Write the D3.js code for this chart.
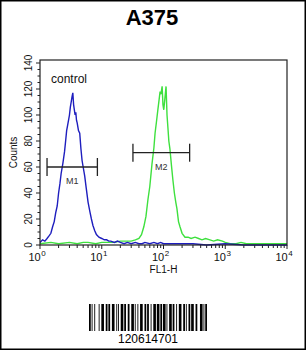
<!DOCTYPE html>
<html>
<head>
<meta charset="utf-8">
<script src="https://cdn.jsdelivr.net/npm/d3@7"></script>
<style>
  html, body { margin: 0; padding: 0; background: #fff; }
  svg { display: block; font-family: Arial, "Liberation Sans", sans-serif; }
</style>
</head>
<body>
<div id="chart"></div>
<script>
// Histogram data (FL1-H value, counts)
const blueFL = [1.0,1.1,1.2,1.3,1.4,1.5,1.6,1.7,1.8,1.9,2.0,2.1,2.2,2.35,2.5,2.6,2.7,2.8,2.9,3.0,3.1,3.2,3.3,3.4,3.5,3.6,3.7,3.8,3.9,4.0,4.2,4.4,4.6,4.8,5.0,5.3,5.6,6.0,6.4,6.8,7.2,7.7,8.2,9.0,10,11,12,13,14,16,18,20,23,26,30,35,40,45,50,60,70,80,90,100,120,150,200,300,500,1000,2000,5000,10000];
const blueCounts = [2,4,3,5,7,9,14,18,25,30,40,47,55,63,72,80,88,92,96,100,106,110,114,117,108,104,100,102,96,94,88,86,74,65,60,53,44,33,26,20,15,11,8,6,5,4,4,3,3,2,3,2,1,2,1,2,1,1,2,1,2,1,2,1,1,1,1,1,0,1,0,0,0];

const greenFL = [1.0,1.5,2,3,4,5,6,8,10,13,16,20,25,30,35,40,44,48,52,56,60,65,70,73,77,81,85,88,91,95,98,101,105,110,114,118,122,127,134,142,150,158,165,175,185,200,223,250,280,324,370,420,480,566,650,750,900,1000,1200,1500,1800,2200,3000,4000,6000,10000];
const greenCounts = [1,2,1,2,1,2,2,1,2,2,2,3,3,3,4,5,8,14,22,35,45,62,75,86,95,104,112,118,116,122,108,104,112,122,100,90,80,74,62,50,40,33,28,18,14,9,6,6,5,6,5,4,5,4,3,4,3,2,1,1,2,1,1,1,1,1];

// Gates: label, from, to, counts level
const gateLabels = ["M1", "M2"];
const gateFrom = [1.3, 32];
const gateTo = [8.5, 265];
const gateLevel = [60, 71];

const yTicks = [0, 20, 40, 60, 80, 100, 120, 140];
const xDecades = [0, 1, 2, 3, 4];

// Code 128B module widths for "120614701" (start, data, check, stop)
const barcodePatterns = ["211214","123221","223211","123122","223112","123221","221231","312131","123122","123221","122132","2331112"];
const barcodeText = "120614701";

const W = 306, H = 350;
const margin = { top: 60, right: 19, bottom: 105, left: 40 };
const pw = W - margin.left - margin.right;
const ph = H - margin.top - margin.bottom;

const svg = d3.select("#chart").append("svg").attr("width", W).attr("height", H);

// outer border
svg.append("rect")
  .attr("x", 0.75).attr("y", 0.75)
  .attr("width", W - 1.5).attr("height", H - 1.5)
  .attr("fill", "none").attr("stroke", "#000").attr("stroke-width", 1.5);

// title
svg.append("text")
  .attr("x", 152).attr("y", 25)
  .attr("text-anchor", "middle")
  .style("font-size", "22px").style("font-weight", "bold")
  .text("A375");

const x = d3.scaleLog().domain([1, 10000]).range([0, pw]);
const y = d3.scaleLinear().domain([0, 140]).range([ph, 3]);

const g = svg.append("g").attr("transform", `translate(${margin.left},${margin.top})`);

g.append("clipPath").attr("id", "plot-clip")
  .append("rect").attr("x", 0).attr("y", 0).attr("width", pw).attr("height", ph + 1);

// x minor/major ticks
const xTickVals = [];
xDecades.slice(0, -1).forEach(d => {
  for (let k = 1; k < 10; k++) xTickVals.push(k * Math.pow(10, d));
});
xTickVals.push(10000);
g.append("g").selectAll("line").data(xTickVals).join("line")
  .attr("x1", d => x(d)).attr("x2", d => x(d))
  .attr("y1", ph).attr("y2", d => (Math.log10(d) % 1 === 0 ? ph + 4 : ph + 3))
  .attr("stroke", "#222").attr("stroke-width", 1);

// y ticks (major 20, minor 5)
const yMinor = d3.range(0, 141, 5);
g.append("g").selectAll("line").data(yMinor).join("line")
  .attr("x1", d => (d % 20 === 0 ? -4 : -2.5)).attr("x2", 0)
  .attr("y1", d => y(d)).attr("y2", d => y(d))
  .attr("stroke", "#222").attr("stroke-width", 1);

// y tick labels rotated
g.append("g").selectAll("text").data(yTicks).join("text")
  .attr("transform", d => `translate(-8,${y(d)}) rotate(-90)`)
  .attr("text-anchor", "middle")
  .style("font-size", "10px").style("fill", "#111")
  .text(d => d);

// y axis title
g.append("text")
  .attr("transform", `translate(-23,${ph / 2}) rotate(-90)`)
  .attr("text-anchor", "middle")
  .style("font-size", "10px").style("fill", "#111")
  .text("Counts");

// x tick labels 10^n
const xl = g.append("g").selectAll("text").data(xDecades).join("text")
  .attr("x", d => x(Math.pow(10, d)) - 3)
  .attr("y", ph + 16)
  .attr("text-anchor", "middle")
  .style("font-size", "11px").style("fill", "#111");
xl.append("tspan").text("10");
xl.append("tspan").attr("dy", -5).attr("dx", 0.5).style("font-size", "8px").text(d => d);

g.append("text")
  .attr("x", x(100)).attr("y", ph + 28)
  .attr("text-anchor", "middle")
  .style("font-size", "10px").style("fill", "#111")
  .text("FL1-H");

// histograms
const line = d3.line().x(d => x(d[0])).y(d => y(d[1]));
const plot = g.append("g").attr("clip-path", "url(#plot-clip)");
plot.append("path")
  .datum(d3.zip(greenFL, greenCounts))
  .attr("d", line).attr("fill", "none")
  .attr("stroke", "#3ee03e").attr("stroke-width", 1.4);
plot.append("path")
  .datum(d3.zip(blueFL, blueCounts))
  .attr("d", line).attr("fill", "none")
  .attr("stroke", "#1e1ebe").attr("stroke-width", 1.4);

// frame
g.append("rect")
  .attr("x", 0).attr("y", 0).attr("width", pw).attr("height", ph)
  .attr("fill", "none").attr("stroke", "#222").attr("stroke-width", 1.2);

// gate markers
gateLabels.forEach((lab, i) => {
  const x0 = x(gateFrom[i]), x1 = x(gateTo[i]), yy = y(gateLevel[i]);
  const mg = g.append("g").attr("stroke", "#222").attr("stroke-width", 1.3);
  mg.append("line").attr("x1", x0).attr("x2", x1).attr("y1", yy).attr("y2", yy);
  mg.append("line").attr("x1", x0).attr("x2", x0).attr("y1", yy - 9).attr("y2", yy + 9);
  mg.append("line").attr("x1", x1).attr("x2", x1).attr("y1", yy - 9).attr("y2", yy + 9);
  g.append("text")
    .attr("x", (x0 + x1) / 2).attr("y", yy + 17)
    .attr("text-anchor", "middle")
    .style("font-size", "9px").style("fill", "#333")
    .text(lab);
});

// control label
g.append("text")
  .attr("x", 11).attr("y", 23)
  .style("font-size", "12px").style("fill", "#111")
  .text("control");

// barcode
const modules = [];
barcodePatterns.join("").split("").forEach(c => modules.push(+c));
const totalModules = d3.sum(modules);
const bx = d3.scaleLinear().domain([0, totalModules]).range([89, 207]);
let pos = 0;
const bars = [];
modules.forEach((m, i) => {
  if (i % 2 === 0) bars.push([pos, m]);
  pos += m;
});
svg.append("g").selectAll("rect").data(bars).join("rect")
  .attr("x", d => bx(d[0])).attr("width", d => bx(d[0] + d[1]) - bx(d[0]))
  .attr("y", 304).attr("height", 27)
  .attr("fill", "#000");
svg.append("text")
  .attr("x", 148).attr("y", 343)
  .attr("text-anchor", "middle")
  .style("font-size", "12px")
  .text(barcodeText);
</script>
</body>
</html>
